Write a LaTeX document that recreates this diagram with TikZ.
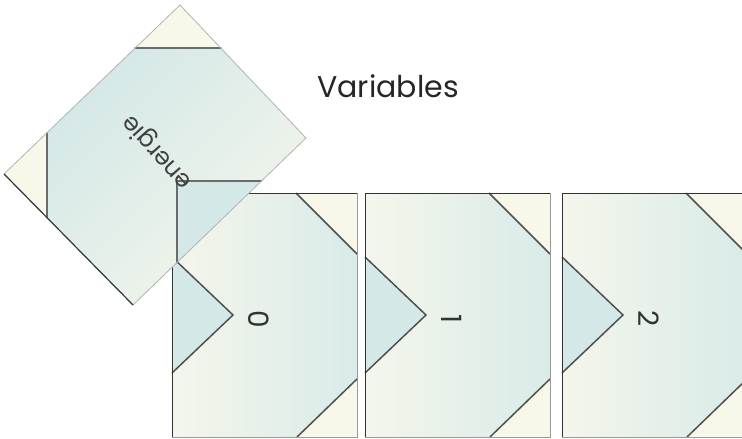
\documentclass[tikz,border=0pt]{standalone}
\usepackage{fontspec}
\setmainfont{Poppins}
\definecolor{cream}{HTML}{F7F7EA}
\definecolor{tealc}{HTML}{D4E8E8}
\definecolor{gl}{HTML}{F4F6EB}
\definecolor{gr}{HTML}{D9EBE8}
\definecolor{ink}{HTML}{505050}
\begin{document}
\begin{tikzpicture}[x=1pt,y=-1pt,
  cut/.style={draw=ink, line width=1.5pt, line join=round},
  dcut/.style={draw=black!58, line width=1.8pt, line cap=round},
  digit/.style={font=\fontsize{28}{30}\selectfont, text=black!80, inner sep=0pt},
  word/.style={font=\fontsize{24}{26}\selectfont, text=black!75, inner sep=0pt},
  title/.style={font=\fontsize{30}{34}\selectfont, text=black!85, inner sep=0pt}]
\useasboundingbox (0,0) rectangle (742,439);
\clip (0,0) rectangle (742,439);

% --- the three upright pieces ---
\foreach \xo/\lab in {172/0, 365/1, 562/2}{
  \begin{scope}[shift={(\xo,193)}]
    \fill[cream] (0,0) rectangle (185,244);
    \shade[left color=gl, right color=gr]
      (0,0) -- (124,0) -- (185,61) -- (185,186) -- (125,244) -- (0,244)
      -- (0,180) -- (61,122) -- (0,64) -- cycle;
    \fill[tealc] (0,64) -- (61,122) -- (0,180) -- cycle;
    \draw[cut] (0,64) -- (61,122) -- (0,180);
    \draw[cut] (124,0) -- (185,61);
    \draw[cut] (185,186) -- (125,244);
    \draw[black!40, line width=0.8pt] (185,0) -- (185,244) -- (0,244);
    \draw[black!80, line width=1pt] (0,244) -- (0,0) -- (185,0);
    \node[digit, rotate=-90] (d\lab) at (87,126) {\lab};
  \end{scope}
}

% --- the tilted piece ---
\coordinate (T) at (180,5);
\coordinate (R) at (306,138);
\coordinate (B) at (133,305);
\coordinate (L) at (4,174);
\fill[cream] (T) -- (R) -- (B) -- (L) -- cycle;
\shade[top color=tealc, bottom color=gl, shading angle=45]
  (135,48) -- (221,48) -- (R) -- (261.5,181) -- (177,181) -- (177,262.5)
  -- (B) -- (47,217) -- (47,133) -- cycle;
\fill[tealc] (177,181) -- (261.5,181) -- (177,262.5) -- cycle;
\draw[dcut] (135,48) -- (221,48);
\draw[dcut] (47,133) -- (47,217);
\draw[dcut] (261.5,181) -- (177,181) -- (177,262.5);
\draw[black!30, line width=0.8pt] (L) -- (T) -- (R) -- (B);
\draw[black!80, line width=1.2pt] (L) -- (B);
\node[word, rotate=132] (en) at (158,152) {energie};

% --- title ---
\node[title] (var) at (388,86) {Variables};
\end{tikzpicture}
\end{document}
